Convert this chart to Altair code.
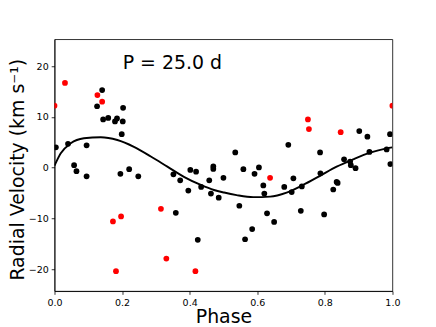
import altair as alt
import pandas as pd

# Black (main) measurements: phase, radial velocity (km/s)
black_phase = [0.004, 0.040, 0.095, 0.058, 0.065, 0.095, 0.126, 0.141, 0.144, 0.159,
               0.179, 0.185, 0.202, 0.203, 0.199, 0.195, 0.221, 0.248, 0.352, 0.372,
               0.396, 0.402, 0.419, 0.434, 0.458, 0.463, 0.470, 0.470, 0.486, 0.359,
               0.424, 0.500, 0.535, 0.547, 0.559, 0.564, 0.585, 0.592, 0.605, 0.618,
               0.621, 0.629, 0.650, 0.680, 0.692, 0.702, 0.707, 0.729, 0.732, 0.786,
               0.787, 0.798, 0.825, 0.835, 0.838, 0.857, 0.875, 0.877, 0.891, 0.902,
               0.926, 0.932, 0.983, 0.993, 0.994]
black_rv = [4.0, 4.7, 4.4, 0.5, -0.7, -1.7, 12.1, 15.3, 9.5, 9.8,
            9.1, 9.7, 9.1, 11.8, 6.6, -1.2, -0.3, -1.7, -1.3, -2.5,
            -4.5, -0.45, -0.8, -3.8, -2.5, -5.1, 0.25, -0.25, -5.9, -8.9,
            -14.2, -2.0, 3.0, -7.5, -0.3, -14.1, -12.1, -1.2, 0.05, -3.5,
            -5.1, -9.0, -10.7, -3.8, 4.5, -4.8, -2.1, -8.5, -3.7, 3.0,
            -1.1, -9.2, -4.3, -2.8, -3.0, 1.65, 1.2, 0.5, -0.1, 7.2,
            6.1, 3.1, 3.6, 6.6, 0.7]

# Red measurements
red_phase = [0.0, 0.031, 0.127, 0.141, 0.173, 0.182, 0.197, 0.315, 0.331, 0.417,
             0.638, 0.750, 0.753, 0.847, 1.0]
red_rv = [12.2, 16.7, 14.3, 13.0, -10.6, -20.4, -9.6, -8.1, -17.9, -20.4,
          -2.0, 9.5, 7.6, 7.0, 12.2]

# Fitted model curve
curve_phase = [0.0, 0.018, 0.048, 0.087, 0.137, 0.186, 0.235, 0.285, 0.334, 0.383,
               0.433, 0.472, 0.502, 0.539, 0.588, 0.638, 0.687, 0.736, 0.786, 0.835,
               0.884, 0.934, 0.983, 1.0]
curve_rv = [0.4, 2.8, 4.8, 5.8, 6.0, 5.45, 4.1, 2.2, 0.2, -1.8,
            -3.4, -4.4, -4.9, -5.4, -5.8, -5.7, -4.9, -3.4, -1.6, 0.2,
            1.65, 2.95, 3.8, 4.0]

period_label = "P = 25.0 d"
x_ticks = [0.0, 0.2, 0.4, 0.6, 0.8, 1.0]
y_ticks = [-20, -10, 0, 10, 20]

black_df = pd.DataFrame({"phase": black_phase, "rv": black_rv})
red_df = pd.DataFrame({"phase": red_phase, "rv": red_rv})
curve_df = pd.DataFrame({"phase": curve_phase, "rv": curve_rv})

FONT = "DejaVu Sans"
W, H = 337.9, 251.8

xscale = alt.Scale(domain=[0, 1], nice=False, zero=False)
yscale = alt.Scale(domain=[-24.3, 25.3], nice=False, zero=False)

xaxis = alt.Axis(values=x_ticks, format=".1f", title="Phase",
                 titleX=W / 2, titleY=31.0, titleAlign="center",
                 titleBaseline="alphabetic", labelFlush=False)
yaxis = alt.Axis(values=y_ticks, format="d", title="Radial Velocity (km s\u207b\u00b9)",
                 titleX=-31.0, titleY=130, titleAlign="center", titleAngle=270,
                 titleBaseline="alphabetic", labelFlush=False)

black_pts = alt.Chart(black_df).mark_circle(color="#000000", opacity=1, size=33, clip=True).encode(
    x=alt.X("phase:Q", scale=xscale, axis=xaxis),
    y=alt.Y("rv:Q", scale=yscale, axis=yaxis),
)
red_pts = alt.Chart(red_df).mark_circle(color="#ff0000", opacity=1, size=33, clip=True).encode(
    x=alt.X("phase:Q", scale=xscale),
    y=alt.Y("rv:Q", scale=yscale),
)
curve = alt.Chart(curve_df).mark_line(color="#000000", strokeWidth=1.9, interpolate="monotone", clip=True).encode(
    x=alt.X("phase:Q", scale=xscale),
    y=alt.Y("rv:Q", scale=yscale),
)
label = alt.Chart(pd.DataFrame({"t": [period_label]})).mark_text(
    align="left", baseline="alphabetic", font=FONT, fontSize=18.9, color="#000000"
).encode(
    x=alt.datum(0.2018, scale=xscale),
    y=alt.datum(19.35, scale=yscale),
    text="t:N",
)

chart = alt.layer(black_pts, red_pts, curve, label).properties(
    width=W, height=H,
    autosize=alt.AutoSizeParams(type="none"),
    padding={"left": 46.5, "top": 31.24, "right": 10, "bottom": 38},
    background="white",
).configure_view(
    stroke="#000000", strokeWidth=0.8
).configure_axis(
    grid=False,
    domainColor="#000000", domainWidth=0.8,
    tickColor="#000000", tickWidth=0.8, tickSize=3.3,
    labelFont=FONT, labelFontSize=9.5, labelColor="#000000", labelPadding=3.0,
    titleFont=FONT, titleFontSize=18.9, titleFontWeight="normal", titleColor="#000000",
)

chart.save("out.html", embed_options={"renderer": "svg", "actions": False})
